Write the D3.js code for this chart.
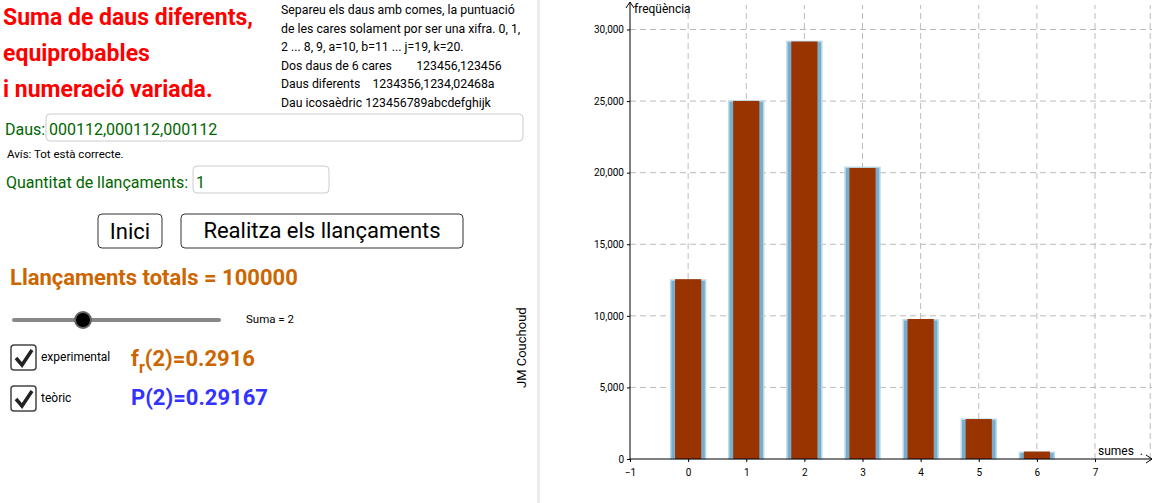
<!DOCTYPE html>
<html><head><meta charset="utf-8">
<script src="https://cdn.jsdelivr.net/npm/d3@7/dist/d3.min.js"></script>
<style>body{margin:0;background:#fff}svg{font-family:Roboto,sans-serif}</style>
</head><body><svg id="c" width="1155" height="503"></svg>
<script>
const sums = [0,1,2,3,4,5,6];
const theoretical = [12500,25000,29167,20370,9722,2778,463];
const experimental = [12560,25010,29160,20330,9780,2790,520];
const yTicks = [0,5000,10000,15000,20000,25000,30000];
const xTicks = [-1,0,1,2,3,4,5,6,7];

const svg = d3.select("#c");
// left panel
svg.append("rect").attr("x",537).attr("y",0).attr("width",3).attr("height",503).attr("fill","#ececec");
const T=(x,y,t,o)=>{const e=svg.append("text").attr("x",x).attr("y",y).text(t);
  for(const k in o) e.attr(k,o[k]); return e;};
["Suma de daus diferents,","equiprobables","i numeració variada."].forEach((s,i)=>
  T(3,25+i*36,s,{"font-size":23,"font-weight":"bold",fill:"#ff0000"}));
["Separeu els daus amb comes, la puntuació","de les cares solament por ser una xifra. 0, 1,",
 "2 ... 8, 9, a=10, b=11 ... j=19, k=20.","Dos daus de 6 cares        123456,123456",
 "Daus diferents    1234356,1234,02468a","Dau icosaèdric 123456789abcdefghijk"].forEach((s,i)=>
  T(281,14+i*18.5,s,{"font-size":12.3,fill:"#000","xml:space":"preserve"}));
svg.append("rect").attr("x",46).attr("y",114).attr("width",477).attr("height",27).attr("rx",4).attr("fill","#fff").attr("stroke","#ccc");
T(5,135,"Daus:",{"font-size":16,fill:"#006600"});
T(49,135,"000112,000112,000112",{"font-size":16,fill:"#006600"});
T(7,158,"Avís: Tot està correcte.",{"font-size":11.5,fill:"#000"});
svg.append("rect").attr("x",193).attr("y",166).attr("width",136).attr("height",27).attr("rx",4).attr("fill","#fff").attr("stroke","#ccc");
T(6,188,"Quantitat de llançaments:",{"font-size":16,fill:"#006600"});
T(196,188,"1",{"font-size":16,fill:"#006600"});
svg.append("rect").attr("x",98).attr("y",214).attr("width",64).attr("height",34).attr("rx",4).attr("fill","#fff").attr("stroke","#333");
T(130,239,"Inici",{"font-size":22,fill:"#000","text-anchor":"middle"});
svg.append("rect").attr("x",181).attr("y",214).attr("width",282).attr("height",34).attr("rx",4).attr("fill","#fff").attr("stroke","#333");
T(322,238,"Realitza els llançaments",{"font-size":22,fill:"#000","text-anchor":"middle"});
T(10,285,"Llançaments totals = 100000",{"font-size":22,"font-weight":"bold",fill:"#cc6600"});
svg.append("line").attr("x1",14).attr("x2",219).attr("y1",320).attr("y2",320).attr("stroke","#888").attr("stroke-width",4).attr("stroke-linecap","round");
svg.append("circle").attr("cx",83).attr("cy",320).attr("r",8).attr("fill","#000").attr("stroke","#666").attr("stroke-width",2);
T(246,323,"Suma = 2",{"font-size":11.5,fill:"#000"});
[[345,"experimental"],[386,"teòric"]].forEach(([y,t])=>{
  svg.append("rect").attr("x",11).attr("y",y).attr("width",25).attr("height",25).attr("rx",3).attr("fill","#fff").attr("stroke","#444").attr("stroke-width",1.5);
  svg.append("path").attr("d",`M16 ${y+13} L22 ${y+20} L32 ${y+5}`).attr("fill","none").attr("stroke","#222").attr("stroke-width",3.5);
  T(41,y+16,t,{"font-size":12,fill:"#000"});
});
const f=T(131,366,"f",{"font-size":22,"font-weight":"bold",fill:"#cc6600"});
f.append("tspan").attr("dy",7).attr("font-size",16).text("r");
f.append("tspan").attr("dy",-7).text("(2)=0.2916");
T(131,405,"P(2)=0.29167",{"font-size":22,"font-weight":"bold",fill:"#3333ff"});
T(0,0,"JM Couchoud",{"font-size":13,fill:"#000",transform:"translate(526,388) rotate(-90)"});

// chart
const x = d3.scaleLinear().domain([-1,7]).range([630,1095]);
const y = d3.scaleLinear().domain([0,30000]).range([459,29.5]);
const g = svg.append("g");
xTicks.filter(d=>d!==-1).forEach(d=>g.append("line").attr("x1",x(d)).attr("x2",x(d)).attr("y1",459).attr("y2",5).attr("stroke","#bbb").attr("stroke-dasharray","6,4"));
x.ticks; g.append("line").attr("x1",x(7.95)).attr("x2",x(7.95)).attr("y1",459).attr("y2",5).attr("stroke","#bbb").attr("stroke-dasharray","6,4");
yTicks.filter(d=>d>0).forEach(d=>g.append("line").attr("x1",630).attr("x2",1152).attr("y1",y(d)).attr("y2",y(d)).attr("stroke","#bbb").attr("stroke-dasharray","6,4"));
const bw=0.6, rw=0.45;
g.selectAll(".b").data(sums).join("rect").attr("x",d=>x(d-bw/2)).attr("width",x(bw)-x(0))
 .attr("y",(d,i)=>y(theoretical[i])).attr("height",(d,i)=>459-y(theoretical[i]))
 .attr("fill","#78aecb").attr("stroke","#bcd8e8").attr("stroke-width",1.5);
g.selectAll(".r").data(sums).join("rect").attr("x",d=>x(d-rw/2)).attr("width",x(rw)-x(0))
 .attr("y",(d,i)=>y(experimental[i])).attr("height",(d,i)=>459-y(experimental[i]))
 .attr("fill","#993300");
const xa=svg.append("g").attr("transform","translate(0,459)").call(d3.axisBottom(x).tickValues(xTicks).tickSize(3).tickFormat(d=>d<0?"\u2212"+(-d):d));
const ya=svg.append("g").attr("transform","translate(630,0)").call(d3.axisLeft(y).tickValues(yTicks).tickSize(3));
[xa,ya].forEach(a=>{a.select(".domain").remove();a.selectAll("text").attr("font-family","Roboto").attr("font-size",10).attr("fill","#000");});
xa.selectAll("text").attr("dy","1.1em");
svg.append("line").attr("x1",630).attr("x2",1152).attr("y1",459).attr("y2",459).attr("stroke","#000");
svg.append("line").attr("x1",630).attr("x2",630).attr("y1",459).attr("y2",2).attr("stroke","#000");
svg.append("path").attr("d","M1146 455 L1152 459 L1146 463").attr("fill","none").attr("stroke","#000");
svg.append("path").attr("d","M626 8 L630 2 L634 8").attr("fill","none").attr("stroke","#000");
T(634,13,"freqüència",{"font-size":12,fill:"#000"});
T(1098,455,"sumes  .",{"font-size":12,fill:"#000","xml:space":"preserve"});
</script></body></html>
